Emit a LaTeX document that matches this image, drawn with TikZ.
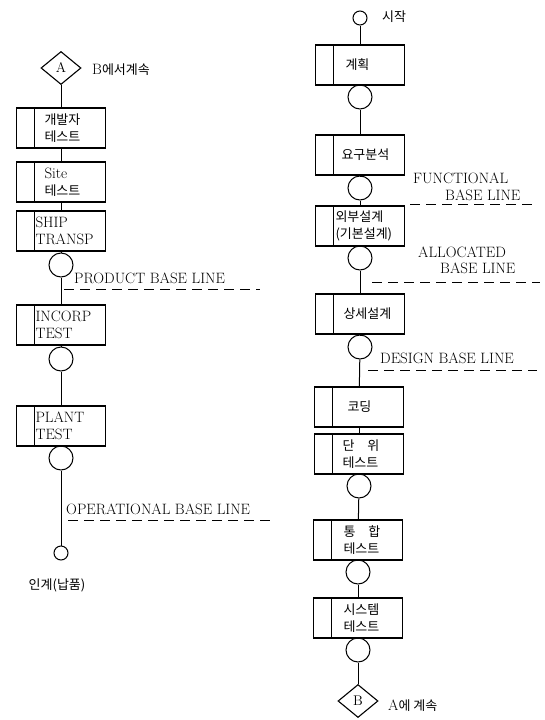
\documentclass[tikz,border=0pt]{standalone}
\usepackage{fontspec}
\newfontfamily\krfont{Noto Sans CJK KR}
\usetikzlibrary{shapes.geometric,positioning}

\begin{document}
\begin{tikzpicture}[
  x=1pt, y=-1pt,
  stage/.style={
    draw,
    line width=1.1pt,
    minimum width=89pt,
    minimum height=40pt,
    inner sep=0pt,
    text width=89pt,
    align=left,
    font=\krfont\fontsize{13}{17}\selectfont,
    execute at begin node={\leftskip=#1},
    path picture={\draw[line width=1.1pt]
      ([xshift=18pt]path picture bounding box.north west) --
      ([xshift=18pt]path picture bounding box.south west);}
  },
  stage/.default=28pt,
  engtext/.style={font=\fontsize{15}{17}\selectfont},
  bubble/.style={circle, draw, line width=1pt, minimum size=24pt, inner sep=0pt},
  endmark/.style={circle, draw, line width=1pt, minimum size=14pt, inner sep=0pt},
  offpage/.style={diamond, draw, line width=1.1pt, minimum width=40pt,
    minimum height=33pt, inner sep=0pt, font=\fontsize{14}{14}\selectfont},
  note/.style={font=\krfont\fontsize{13}{15}\selectfont, inner sep=0pt},
  blabel/.style={font=\fontsize{15}{17}\selectfont, inner sep=0pt, anchor=west},
  flow/.style={line width=1pt},
  bline/.style={line width=1pt, dash pattern=on 10pt off 6pt}
]
  \useasboundingbox (0,0) rectangle (545,720);

  % left column: A -> handover
  \node[offpage] (A) at (61,68) {A};
  \node[note, anchor=west] (Anote) at (92,70) {{\rmfamily\fontsize{15}{15}\selectfont B}에서계속};
  \node[stage] (dev) at (61,128) {개발자\\테스트};
  \node[stage] (site) at (61,182) {{\rmfamily\fontsize{15}{17}\selectfont Site}\\테스트};
  \node[stage=19pt, engtext] (ship) at (61,231) {SHIP\\TRANSP};
  \node[bubble] (c1) at (61,265) {};
  \node[stage=19pt, engtext] (incorp) at (61,325) {INCORP\\TEST};
  \node[bubble] (c2) at (61,359) {};
  \node[stage=19pt, engtext] (plant) at (61,426) {PLANT\\TEST};
  \node[bubble] (c3) at (61,458) {};
  \node[endmark] (handover) at (61,553) {};
  \node[note] (handnote) at (57,585) {인계(납품)};

  \draw[flow] (A) -- (dev);
  \draw[flow] (dev) -- (site);
  \draw[flow] (site) -- (ship);
  \draw[flow] (ship) -- (c1);
  \draw[flow] (c1) -- (incorp);
  \draw[flow] (incorp) -- (c2);
  \draw[flow] (c2) -- (plant);
  \draw[flow] (plant) -- (c3);
  \draw[flow] (c3) -- (handover);

  \node[blabel] (prodbl) at (74,278) {PRODUCT BASE LINE};
  \draw[bline] (64,289) -- (260,289);
  \node[blabel] (operbl) at (66,509) {OPERATIONAL BASE LINE};
  \draw[bline] (68,520) -- (272,520);

  % right column: start -> B
  \node[endmark] (start) at (360,18) {};
  \node[note, anchor=west] (startnote) at (382,17) {시작};
  \node[stage=30pt] (plan) at (360,65) {계획};
  \node[bubble] (c4) at (360,97) {};
  \node[stage=26pt] (req) at (360,155) {요구분석};
  \node[bubble] (c5) at (360,188) {};
  \node[stage=20pt] (ext) at (360,226) {외부설계\\(기본설계)};
  \node[bubble] (c6) at (360,258) {};
  \node[stage] (detail) at (360,314) {상세설계};
  \node[bubble] (c7) at (360,347) {};
  \node[stage=33pt] (coding) at (359,407) {코딩};
  \node[stage] (unit) at (359,454) {단\quad 위\\테스트};
  \node[bubble] (c8) at (359,486) {};
  \node[stage=30pt] (integ) at (358,540) {통\quad 합\\테스트};
  \node[bubble] (c9) at (358,572) {};
  \node[stage=30pt] (system) at (358,618) {시스템\\테스트};
  \node[bubble] (c10) at (358,650) {};
  \node[offpage] (B) at (358,701) {B};
  \node[note, anchor=west] (Bnote) at (388,706) {{\rmfamily\fontsize{15}{15}\selectfont A}에 계속};

  \draw[flow] (start) -- (plan);
  \draw[flow] (plan) -- (c4);
  \draw[flow] (c4) -- (req);
  \draw[flow] (req) -- (c5);
  \draw[flow] (c5) -- (ext);
  \draw[flow] (ext) -- (c6);
  \draw[flow] (c6) -- (detail);
  \draw[flow] (detail) -- (c7);
  \draw[flow] (c7) -- (coding);
  \draw[flow] (coding) -- (unit);
  \draw[flow] (unit) -- (c8);
  \draw[flow] (c8) -- (integ);
  \draw[flow] (integ) -- (c9);
  \draw[flow] (c9) -- (system);
  \draw[flow] (system) -- (c10);
  \draw[flow] (c10) -- (B);

  \node[blabel] (funcbl) at (413,178) {FUNCTIONAL};
  \node[blabel] (funcbl2) at (445,195) {BASE LINE};
  \draw[bline] (410,204) -- (537,204);
  \node[blabel] (allocbl) at (418,252) {ALLOCATED};
  \node[blabel] (allocbl2) at (440,268) {BASE LINE};
  \draw[bline] (372,282) -- (540,282);
  \node[blabel] (designbl) at (380,358) {DESIGN BASE LINE};
  \draw[bline] (368,370) -- (537,370);
\end{tikzpicture}
\end{document}
